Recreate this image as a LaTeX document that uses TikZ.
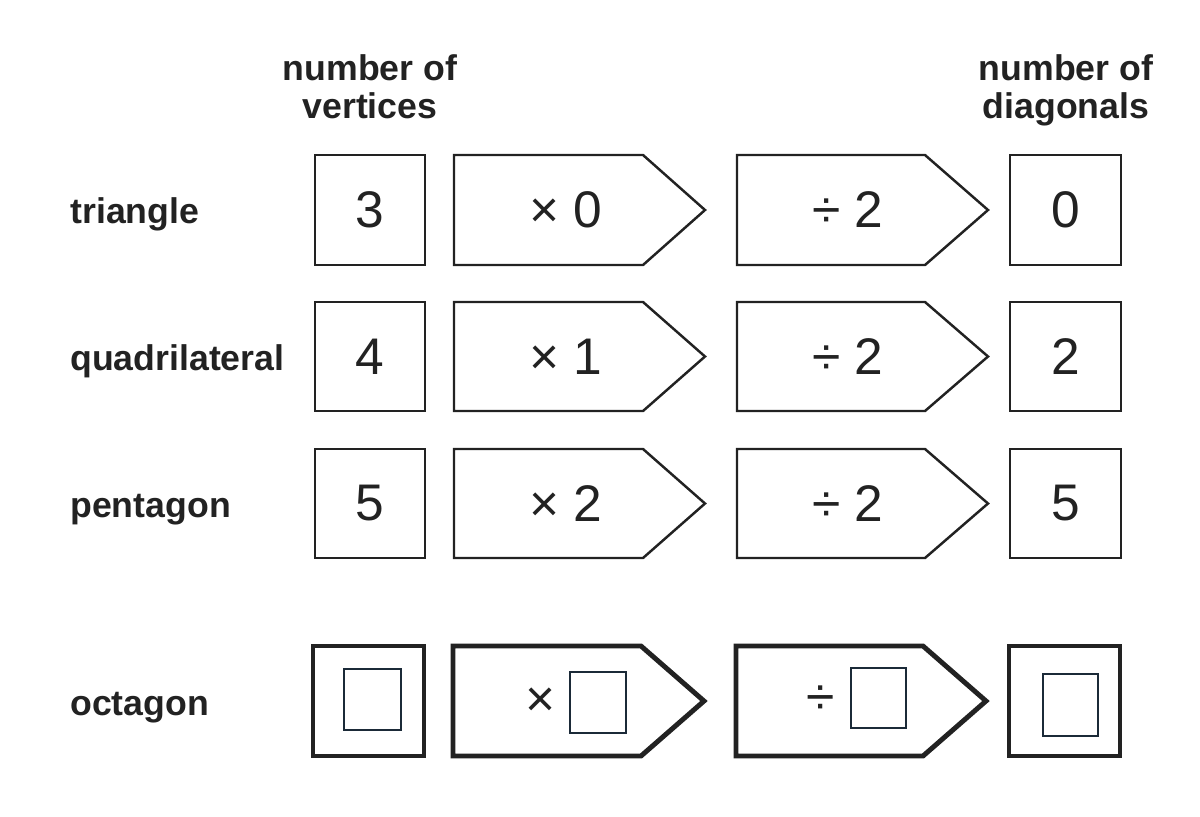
\documentclass[tikz,border=0pt]{standalone}
\usepackage{fontspec}
\setmainfont{Liberation Sans}
\definecolor{ink}{HTML}{222222}
\definecolor{navy}{HTML}{1B2A38}
\begin{document}
\begin{tikzpicture}[x=0.02cm,y=-0.02cm,
  cell/.style={draw=ink,line width=1.4pt,line join=miter},
  cellbold/.style={draw=ink,line width=2.8pt,line join=miter},
  blank/.style={draw=navy,line width=1.1pt},
  lab/.style={font=\bfseries\fontsize{20.3}{24}\selectfont,text=ink,inner sep=0pt},
  num/.style={font=\fontsize{29.3}{34}\selectfont,text=ink,inner sep=0pt}]
\useasboundingbox (0,0) rectangle (1200,816);
% headers
\node[lab,anchor=mid] (h1a) at (370,76) {number of};
\node[lab,anchor=mid] (h1b) at (370,114) {vertices};
\node[lab,anchor=mid] (h2a) at (1066,76) {number of};
\node[lab,anchor=mid] (h2b) at (1066,114) {diagonals};
% rows
\foreach \t/\b/\nm/\n/\a/\r/\k in {155/265/triangle/3/0/0/1, 302/411/quadrilateral/4/1/2/2, 449/558/pentagon/5/2/5/3}{
  \pgfmathsetmacro\c{(\t+\b)/2}
  \node[lab,anchor=mid west] (lab\k) at (70,\c+9) {\nm};
  \draw[cell] (315,\t) rectangle (425,\b);
  \draw[cell] (454,\t) -- (643,\t) -- (705,\c) -- (643,\b) -- (454,\b) -- cycle;
  \draw[cell] (737,\t) -- (925,\t) -- (988,\c) -- (925,\b) -- (737,\b) -- cycle;
  \draw[cell] (1010,\t) rectangle (1121,\b);
  \node[num] (v\k) at (370,\c) {\n};
  \node[num] (m\k) at (566,\c) {× \a};
  \node[num] (d\k) at (848,\c) {÷ 2};
  \node[num] (g\k) at (1066,\c) {\r};
}
% octagon row
\node[lab,anchor=mid west] (lab4) at (70,711) {octagon};
\draw[cellbold] (313,646) rectangle (424,756);
\draw[cellbold] (453,646) -- (641,646) -- (704,701) -- (641,756) -- (453,756) -- cycle;
\draw[cellbold] (736,646) -- (923,646) -- (986,701) -- (923,756) -- (736,756) -- cycle;
\draw[cellbold] (1009,646) rectangle (1120,756);
\draw[blank] (344,669) rectangle (401,730);
\node[num] (m4) at (541,702) {×};
\draw[blank] (570,672) rectangle (626,733);
\node[num] (d4) at (821,700) {÷};
\draw[blank] (851,668) rectangle (906,728);
\draw[blank] (1043,674) rectangle (1098,736);
\end{tikzpicture}
\end{document}
